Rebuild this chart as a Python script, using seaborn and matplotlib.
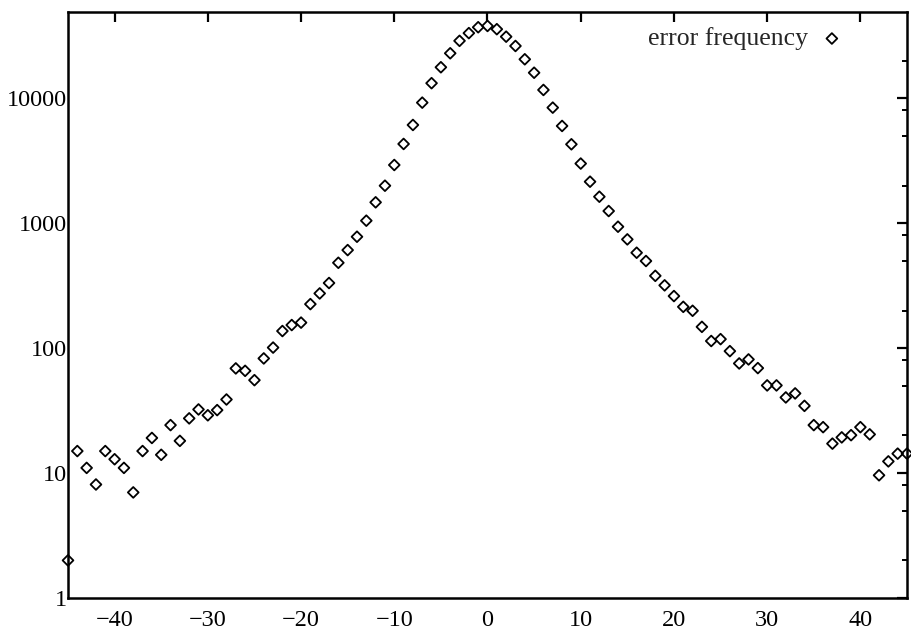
import numpy as np
import pandas as pd
import matplotlib
matplotlib.use("Agg")
import matplotlib.pyplot as plt
import matplotlib.ticker as mticker
import seaborn as sns

# ---- data ----
offsets = list(range(-45, 46))
frequency = [
    2.0, 15, 11, 8.1, 15, 12.9, 11, 7.0, 15, 19.1,          # -45 .. -36
    14, 24.2, 18.1, 27.4, 32.3, 29, 31.9, 38.8, 68.8, 65.8,  # -35 .. -26
    55.4, 82.7, 101, 137, 153, 160, 225, 274, 332, 482,      # -25 .. -16
    609, 779, 1047, 1469, 1995, 2922, 4306, 6110, 9220, 13200,  # -15 .. -6
    17700, 22900, 28800, 33200, 37000, 37900, 35700, 31100, 26200, 20500,  # -5 .. 4
    16000, 11650, 8410, 6000, 4280, 3000, 2148, 1629, 1251, 937,  # 5 .. 14
    742, 580, 498, 379, 318, 261, 214, 199, 148, 114,        # 15 .. 24
    118, 94.6, 75.4, 81.2, 69.2, 50.3, 50.3, 40.3, 43.4, 34.5,  # 25 .. 34
    24.2, 23.3, 17.2, 19.3, 20.1, 23.3, 20.4, 9.6, 12.4, 14.3,  # 35 .. 44
    14.3,                                                     # 45
]
series_label = "error frequency"
x_ticks = [-40, -30, -20, -10, 0, 10, 20, 30, 40]
y_ticks = [1, 10, 100, 1000, 10000]
y_tick_labels = ["1", "10", "100", "1000", "10000"]

df = pd.DataFrame({"offset": offsets, "frequency": frequency})

sns.set_theme(style="white")
plt.rcParams["font.family"] = ["Liberation Serif", "DejaVu Serif"]
plt.rcParams["mathtext.fontset"] = "stix"

fig = plt.figure(figsize=(9.12, 6.38), dpi=100)
ax = fig.add_axes([68 / 912, 1 - 598 / 638, (907 - 68) / 912, (598 - 12) / 638])

sns.scatterplot(data=df, x="offset", y="frequency", marker="D", s=30,
                color="black", linewidth=1.3, label=series_label, ax=ax,
                clip_on=False, zorder=3)
coll = ax.collections[0]
coll.set_facecolor("none")
coll.set_edgecolor("black")

ax.set_yscale("log")
ax.set_xlim(-45, 45)
ax.set_ylim(1, 49000)
ax.set_xticks(x_ticks)
ax.set_xticklabels([f"\u2212{abs(v)}" if v < 0 else str(v) for v in x_ticks])
ax.set_yticks(y_ticks)
ax.set_yticklabels(y_tick_labels)
ax.yaxis.set_minor_locator(mticker.LogLocator(base=10, subs=[2, 5, 8], numticks=20))
ax.yaxis.set_minor_formatter(mticker.NullFormatter())
ax.set_xlabel("")
ax.set_ylabel("")

for sp in ax.spines.values():
    sp.set_visible(True)
    sp.set_color("black")
    sp.set_linewidth(1.8)

ax.tick_params(axis="both", which="both", direction="in", top=True, right=True,
               color="black", labelcolor="black")
ax.tick_params(axis="both", which="major", length=7, width=1.6, labelsize=17.5)
ax.tick_params(axis="both", which="minor", length=3.5, width=1.4)
ax.tick_params(axis="x", which="major", pad=8.5)
ax.tick_params(axis="y", which="major", pad=0.5)

leg = ax.legend(loc="upper right", frameon=False, markerfirst=False,
                fontsize=18.5, handlelength=1.0, handletextpad=0.42,
                borderaxespad=0.0, scatterpoints=1,
                bbox_to_anchor=((855 - 68) / 839, 1 - (17 - 12) / 586))
for h in leg.legend_handles:
    h.set_facecolor("none")
    h.set_edgecolor("black")

fig.savefig("out.png", dpi=100, facecolor="white")
